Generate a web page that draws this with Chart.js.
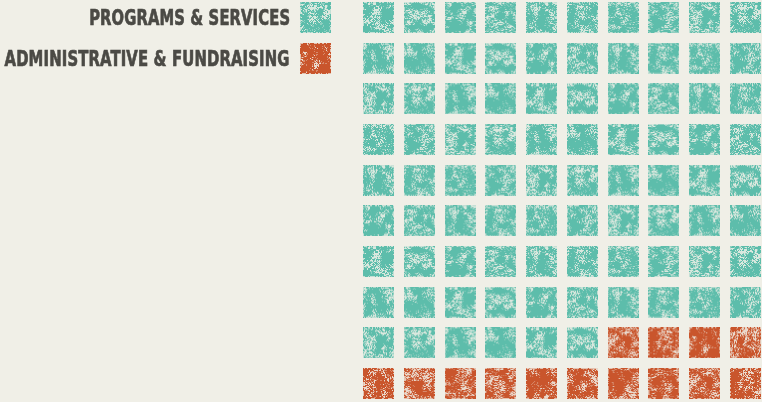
<!DOCTYPE html>
<html>
<head>
<meta charset="utf-8">
<script src="https://cdn.jsdelivr.net/npm/chart.js@4.4.1/dist/chart.umd.min.js"></script>
<style>
  html, body { margin: 0; padding: 0; background: #f0efe7; }
  #wrap { position: relative; width: 762px; height: 402px; overflow: hidden; }
  #chart { position: absolute; left: 0; top: 0; }
  .legend-row { position: absolute; right: 472px; height: 31px; display: flex; align-items: center; }
  .legend-label {
    font-family: "Liberation Sans Narrow", "DejaVu Sans Condensed", Roboto, sans-serif;
    font-weight: bold; font-size: 22px; color: #4b4a45; white-space: nowrap;
    transform-origin: right center; letter-spacing: 0.2px;
    -webkit-text-stroke: 0.7px #4b4a45;
  }
  .legend-swatch { position: absolute; left: 300px; }
</style>
</head>
<body>
<div id="wrap">
  <canvas id="chart" width="762" height="402"></canvas>
</div>
<script>
// Waffle data (one cell = 1%)
const categories = ['PROGRAMS & SERVICES', 'ADMINISTRATIVE & FUNDRAISING'];
const values = [86, 14];
const colors = ['#5dbdab', '#c9552c'];
const columns = 10;

const BG = [240, 239, 231];
const CELL = 31;

// deterministic hash so the grunge texture looks the same every run
function hash(x, y, s) {
    let h = Math.imul(x + 1013, 0x27d4eb2d) ^ Math.imul(y + 7919, 0x165667b1) ^ Math.imul(s + 31, 0x9e3779b1);
    h ^= h >>> 15; h = Math.imul(h, 0x85ebca6b);
    h ^= h >>> 13; h = Math.imul(h, 0xc2b2ae35);
    h ^= h >>> 16;
    return (h >>> 0) / 4294967295;
}

function hexToRgb(hex) {
    const n = parseInt(hex.slice(1), 16);
    return [(n >> 16) & 255, (n >> 8) & 255, n & 255];
}

function makeTexture(color, seed) {
    const c = document.createElement('canvas');
    c.width = CELL; c.height = CELL;
    const g = c.getContext('2d');
    const img = g.createImageData(CELL, CELL);
    const base = hexToRgb(color);
    const grid = 5;
    for (let y = 0; y < CELL; y++) {
        for (let x = 0; x < CELL; x++) {
            // coarse blotches (bilinear value noise) + fine speckle
            const gx = x / grid, gy = y / grid;
            const x0 = Math.floor(gx), y0 = Math.floor(gy);
            const fx = gx - x0, fy = gy - y0;
            const a = hash(x0, y0, seed), b = hash(x0 + 1, y0, seed);
            const c2 = hash(x0, y0 + 1, seed), d = hash(x0 + 1, y0 + 1, seed);
            const coarse = (a * (1 - fx) + b * fx) * (1 - fy) + (c2 * (1 - fx) + d * fx) * fy;
            const fine = hash(x, y, seed + 97);
            const v = coarse * 0.55 + fine * 0.45;
            let mix = 0;
            if (v > 0.66) mix = 0.85;
            else if (v > 0.58) mix = 0.35;
            // rough edge
            const edge = (x === 0 || y === 0 || x === CELL - 1 || y === CELL - 1);
            if (edge && fine > 0.55) mix = 0.7;
            const i = (y * CELL + x) * 4;
            for (let k = 0; k < 3; k++) img.data[i + k] = Math.round(base[k] * (1 - mix) + BG[k] * mix);
            img.data[i + 3] = 255;
        }
    }
    g.putImageData(img, 0, 0);
    return c;
}

const textures = colors.map((col, ci) => {
    const list = [];
    for (let s = 0; s < 12; s++) list.push(makeTexture(col, ci * 50 + s + 1));
    return list;
});

// Build cells row by row, from the top-left
const datasets = [];
let idx = 0;
categories.forEach((cat, ci) => {
    const pts = [];
    for (let k = 0; k < values[ci]; k++, idx++) {
        pts.push({ x: idx % columns, y: Math.floor(idx / columns) });
    }
    datasets.push({
        label: cat,
        data: pts,
        pointStyle: (ctx) => textures[ci][(ctx.dataIndex * 7 + ci) % textures[ci].length],
        radius: 15,
        clip: false
    });
});

new Chart(document.getElementById('chart'), {
    type: 'scatter',
    data: { datasets },
    options: {
        responsive: false,
        animation: false,
        events: [],
        layout: { padding: { left: 378.5, right: 16.5, top: 17.5, bottom: 18.5 } },
        plugins: { legend: { display: false }, tooltip: { enabled: false } },
        scales: {
            x: { type: 'linear', min: 0, max: columns - 1, display: false },
            y: { type: 'linear', min: 0, max: 9, reverse: true, display: false }
        }
    }
});

// Legend (HTML text, right aligned next to its swatch)
const wrap = document.getElementById('wrap');
const targetWidths = [201, 285];
categories.forEach((cat, ci) => {
    const top = 2 + ci * 40.8;
    const row = document.createElement('div');
    row.className = 'legend-row';
    row.style.top = top + 'px';
    const label = document.createElement('span');
    label.className = 'legend-label';
    label.textContent = cat;
    row.appendChild(label);
    wrap.appendChild(row);
    const w = label.getBoundingClientRect().width;
    label.style.transform = 'scaleX(' + (targetWidths[ci] / w).toFixed(3) + ')';

    const swatch = document.createElement('canvas');
    swatch.width = CELL; swatch.height = CELL;
    swatch.className = 'legend-swatch';
    swatch.style.top = top + 'px';
    swatch.getContext('2d').drawImage(textures[ci][3], 0, 0);
    wrap.appendChild(swatch);
});
</script>
</body>
</html>
